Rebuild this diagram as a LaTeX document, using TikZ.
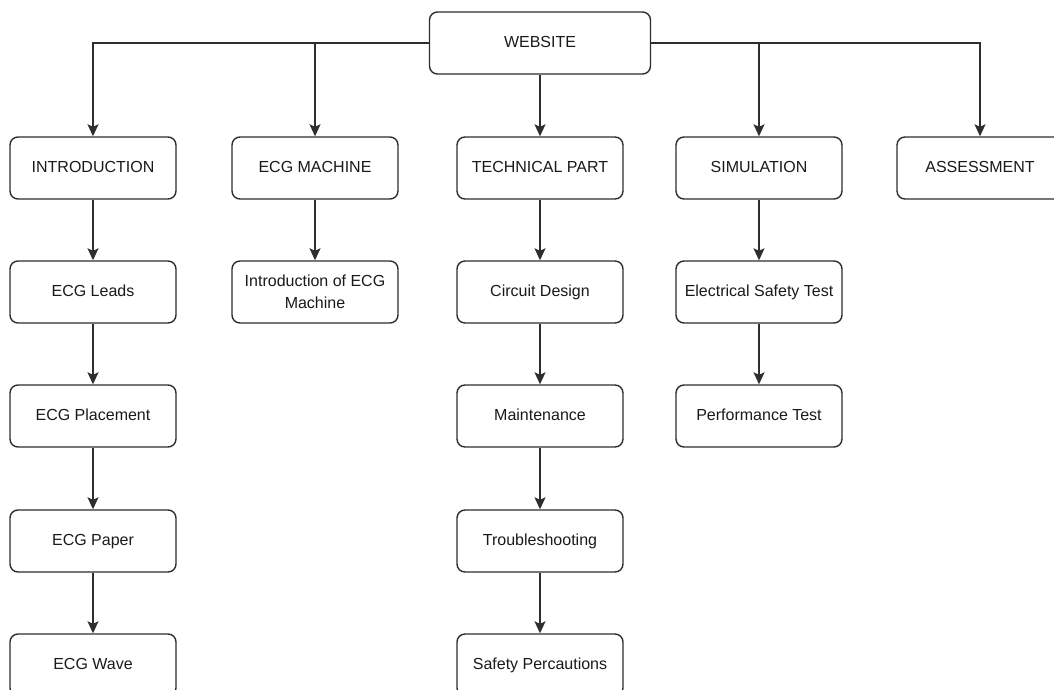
\documentclass[tikz,border=0pt]{standalone}
\usepackage{fontspec}
\setmainfont{Liberation Sans}
\usetikzlibrary{arrows.meta}
\definecolor{edge}{HTML}{2E2E2E}
\definecolor{ink}{HTML}{1A1A1A}
\begin{document}
\begin{tikzpicture}[x=1pt,y=-1pt,
  frame/.style={draw=edge, line width=1.4pt, rounded corners=8pt, fill=white,
    minimum width=166pt, minimum height=62pt, inner sep=2pt,
    text=ink, align=center, font=\fontsize{16}{22}\selectfont},
  box/.style={frame, text height=11.6pt, text depth=3.3pt},
  wbox/.style={box, minimum width=221pt},
  link/.style={draw=edge, line width=1.4pt,
    -{Stealth[length=12pt,width=11pt,inset=2.5pt]}}]
\useasboundingbox (0,0) rectangle (1054,690);
\clip (0,0) rectangle (1054,690);

% top level
\node[wbox] (web) at (540,43) {WEBSITE};

% first row
\node[box] (intro)  at (93,168)  {INTRODUCTION};
\node[box] (ecgm)   at (315,168) {ECG MACHINE};
\node[box] (tech)   at (540,168) {TECHNICAL PART};
\node[box] (sim)    at (759,168) {SIMULATION};
\node[box] (assess) at (980,168) {ASSESSMENT};

% introduction branch
\node[box] (leads) at (93,292) {ECG Leads};
\node[box] (place) at (93,416) {ECG Placement};
\node[box] (paper) at (93,541) {ECG Paper};
\node[box] (wave)  at (93,665) {ECG Wave};

% ECG machine branch
\node[frame] (introm) at (315,292) {Introduction of ECG\\Machine};

% technical branch
\node[box] (circ)  at (540,292) {Circuit Design};
\node[box] (maint) at (540,416) {Maintenance};
\node[box] (trbl)  at (540,541) {Troubleshooting};
\node[box] (safe)  at (540,665) {Safety Percautions};

% simulation branch
\node[box] (elec) at (759,292) {Electrical Safety Test};
\node[box] (perf) at (759,416) {Performance Test};

% connectors from the root
\draw[link] (web.west) -| (intro.north);
\draw[link] (web.west) -| (ecgm.north);
\draw[link] (web.south) -- (tech.north);
\draw[link] (web.east) -| (sim.north);
\draw[link] (web.east) -| (assess.north);

% connectors down each branch
\draw[link] (intro) -- (leads);
\draw[link] (leads) -- (place);
\draw[link] (place) -- (paper);
\draw[link] (paper) -- (wave);
\draw[link] (ecgm) -- (introm);
\draw[link] (tech) -- (circ);
\draw[link] (circ) -- (maint);
\draw[link] (maint) -- (trbl);
\draw[link] (trbl) -- (safe);
\draw[link] (sim) -- (elec);
\draw[link] (elec) -- (perf);
\end{tikzpicture}
\end{document}
